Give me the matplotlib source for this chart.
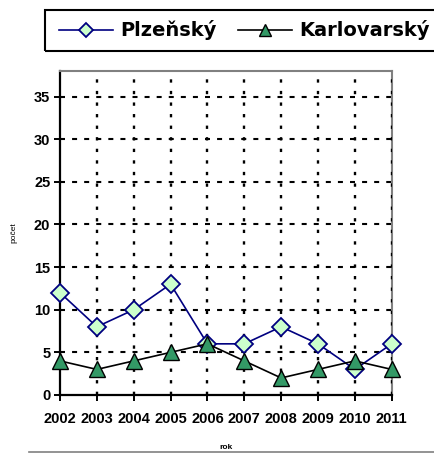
import matplotlib
matplotlib.use("Agg")
import matplotlib.pyplot as plt
from matplotlib.lines import Line2D
from matplotlib.patches import Rectangle

years = ["2002", "2003", "2004", "2005", "2006", "2007", "2008", "2009", "2010", "2011"]
plzensky = [12, 8, 10, 13, 6, 6, 8, 6, 3, 6]
karlovarsky = [4, 3, 4, 5, 6, 4, 2, 3, 4, 3]
yticks = [0, 5, 10, 15, 20, 25, 30, 35]

plt.rcParams['font.family'] = ['Liberation Sans', 'DejaVu Sans']

W, H = 435, 453
fig = plt.figure(figsize=(W/100, H/100), dpi=100)
ax = fig.add_axes([60/W, 1-395/H, (391.7-60)/W, (395-71)/H])

x = list(range(len(years)))
ax.plot(x, plzensky, color='#000080', lw=1.2, marker='D', ms=9,
        mfc='#CCFFCC', mec='#000080', mew=1.3, zorder=4, clip_on=False)
ax.plot(x, karlovarsky, color='black', lw=1.2, marker='^', ms=11,
        mfc='#339966', mec='black', mew=1.0, zorder=5, clip_on=False)

ax.set_xlim(0, len(years)-1)
ax.set_ylim(0, 38)
ax.set_xticks(x)
ax.set_xticklabels(years, fontsize=10.5, fontweight='bold')
ax.set_yticks(yticks)
ax.set_yticklabels([str(v) for v in yticks], fontsize=10.5, fontweight='bold')

for v in yticks[1:]:
    ax.axhline(v, color='black', lw=1.5, ls=(0, (2.4, 3.4)), zorder=1)
for xi in x[1:]:
    ax.axvline(xi, color='black', lw=1.7, ls=(0, (1.4, 3.5)),
               zorder=3 if xi == x[-1] else 1)

ax.spines['left'].set_linewidth(1.6)
ax.spines['bottom'].set_linewidth(1.6)
ax.spines['top'].set_color('#808080')
ax.spines['right'].set_color('#808080')
ax.spines['top'].set_linewidth(1.5)
ax.spines['right'].set_linewidth(1.5)
ax.tick_params(axis='both', direction='out', length=4, width=1.4, pad=3)
ax.tick_params(axis='x', pad=8)

ax.set_xlabel('rok', fontsize=6, fontweight='bold', labelpad=13)
ax.set_ylabel('počet', fontsize=6, labelpad=12)

# legend box extending past right edge
fig.add_artist(Rectangle((45/W, 1-51/H), (W+10-45)/W, 41/H, transform=fig.transFigure,
                         fill=False, edgecolor='black', lw=1.5, clip_on=False))
handles = [
    Line2D([], [], color='#000080', lw=1.2, marker='D', ms=7, mfc='#CCFFCC', mec='#000080', mew=1.3),
    Line2D([], [], color='black', lw=1.2, marker='^', ms=8, mfc='#339966', mec='black', mew=1.0),
]
leg = fig.legend(handles, ['Plzeňský', 'Karlovarský'], loc='center left',
                 bbox_to_anchor=(59/W, 1-30.5/H), ncol=2,
                 prop={'size': 14, 'weight': 'bold', 'family': 'DejaVu Sans'}, frameon=False,
                 handlelength=2.78, columnspacing=1.1, borderpad=0.0, handletextpad=0.36,
                 borderaxespad=0)

fig.add_artist(Line2D([29/W, 1], [1-451.5/H, 1-451.5/H], color='#808080', lw=1.2))

fig.savefig('out.png', dpi=100)
